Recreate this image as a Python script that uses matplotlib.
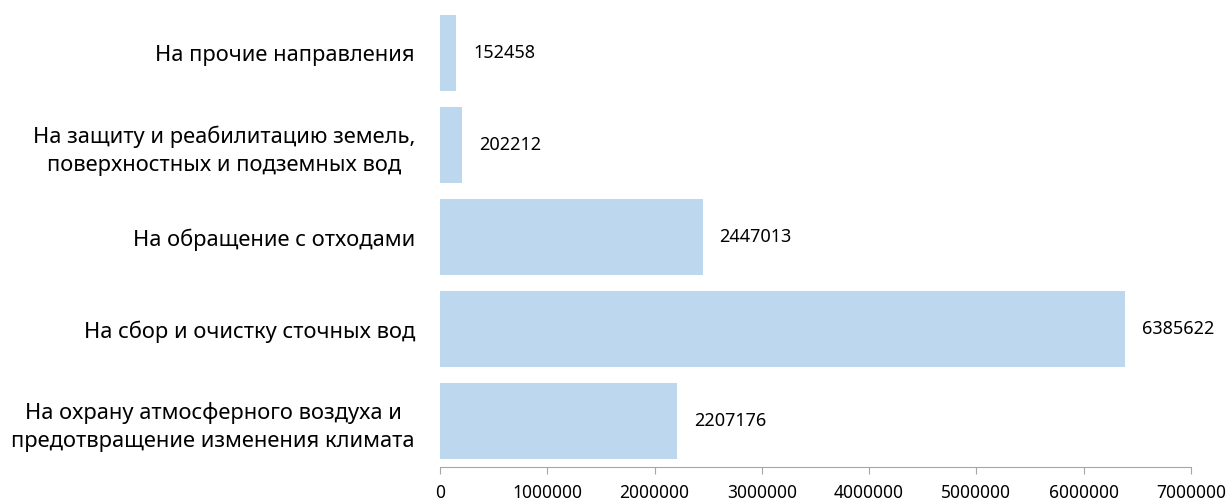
import numpy as np
import matplotlib
matplotlib.use("Agg")
from matplotlib import pyplot as plt

plt.rcParams['font.family'] = ['Noto Sans', 'DejaVu Sans']

# categories from bottom to top, as in the chart
categories = [
    "На охрану атмосферного воздуха и\nпредотвращение изменения климата",
    "На сбор и очистку сточных вод",
    "На обращение с отходами",
    "На защиту и реабилитацию земель,\nповерхностных и подземных вод",
    "На прочие направления",
]
values = [2207176, 6385622, 2447013, 202212, 152458]
xticks = [0, 1000000, 2000000, 3000000, 4000000, 5000000, 6000000, 7000000]

fig = plt.figure(figsize=(12.31, 5.03), dpi=100)
ax = fig.add_axes([0.3574, 0.0716, 0.6101, 0.9145])

y = np.arange(len(categories))
bars = ax.barh(y, values, height=0.83, color='#BDD7EE')

ax.set_xlim(0, 7000000)
ax.set_ylim(-0.5, len(categories) - 0.5)
ax.set_yticks(y)
ax.set_yticklabels(categories, fontsize=15.8, multialignment='center', linespacing=1.45)
ax.tick_params(axis='y', length=0, pad=18)
ax.set_xticks(xticks)
ax.set_xticklabels([str(t) for t in xticks], fontsize=12.5)
ax.tick_params(axis='x', length=5, color='#A6A6A6', pad=7)

for s in ['top', 'right', 'left']:
    ax.spines[s].set_visible(False)
ax.spines['bottom'].set_color('#A6A6A6')

for b, v in zip(bars, values):
    ax.annotate(str(v), (v, b.get_y() + b.get_height() / 2),
                xytext=(17, 0), textcoords='offset pixels',
                va='center', ha='left', fontsize=13)

fig.savefig('out.png', dpi=100)
